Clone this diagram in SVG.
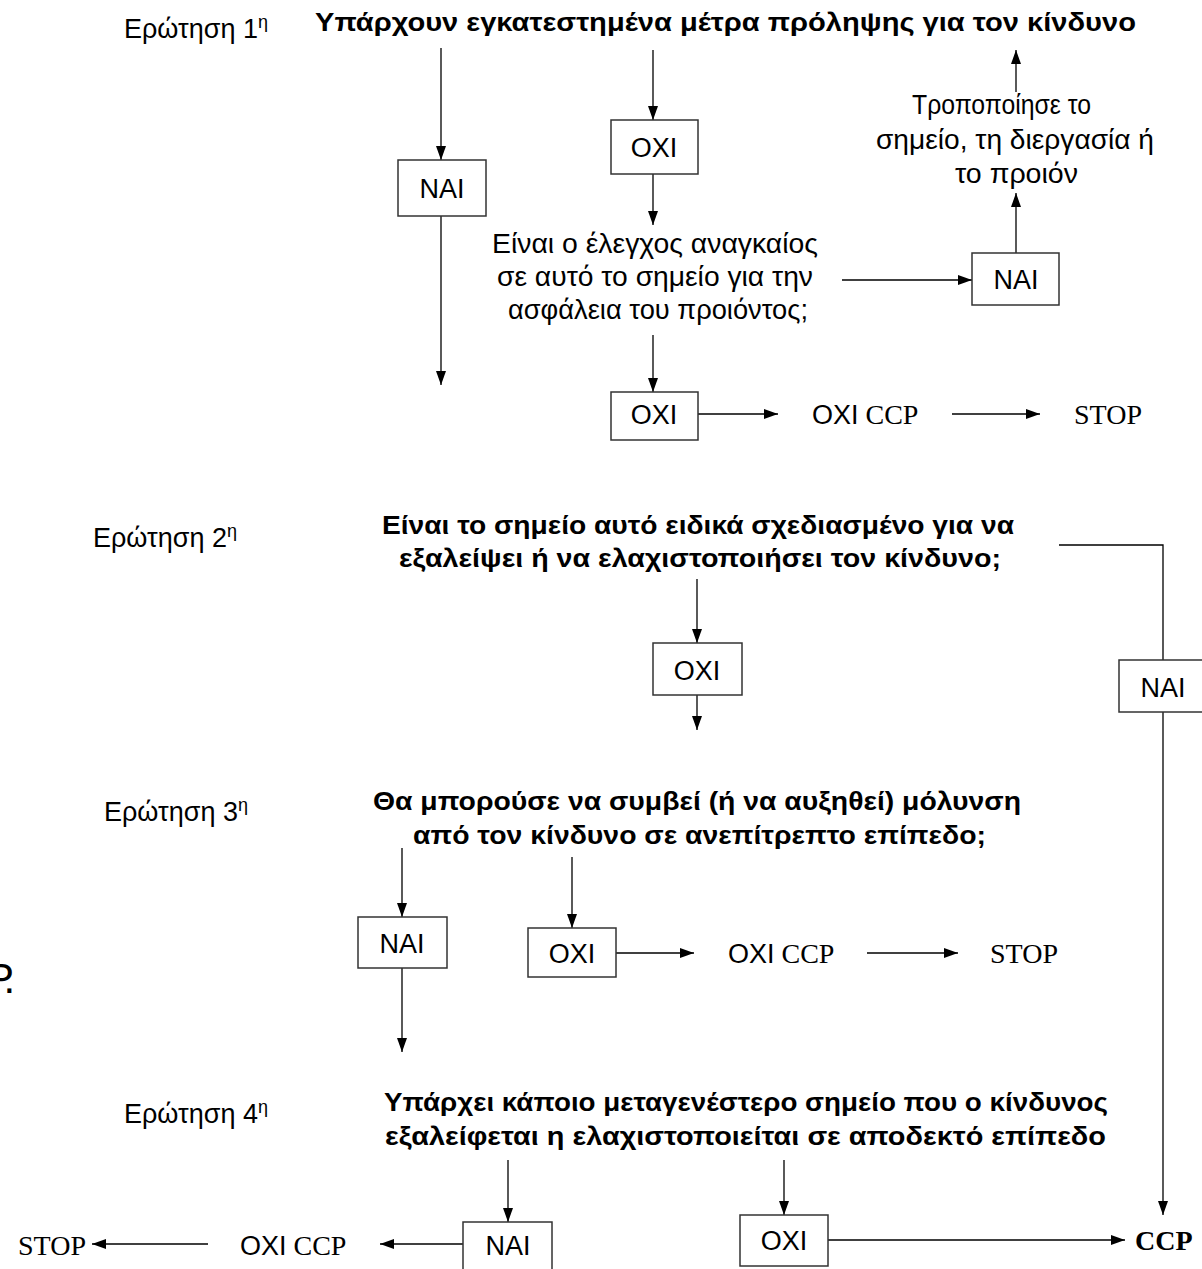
<svg xmlns="http://www.w3.org/2000/svg" width="1202" height="1269" viewBox="0 0 1202 1269">
<defs>
<marker id="ah" markerUnits="userSpaceOnUse" markerWidth="14" markerHeight="10" refX="14" refY="5" orient="auto">
<path d="M0,0 L14,5 L0,10 z" fill="#000"/>
</marker>
<style>
.t{font-family:"Liberation Sans",Arial,sans-serif;font-size:27px;fill:#000}
.b{font-family:"Liberation Sans",Arial,sans-serif;font-size:26.5px;font-weight:bold;fill:#000}
.tm{font-family:"Liberation Serif","Times New Roman",serif;font-size:28px;fill:#000}
.c{text-anchor:middle}
.box{fill:#fff;stroke:#333;stroke-width:1.5}
.ln{fill:none;stroke:#000;stroke-width:1.3}
.ar{marker-end:url(#ah)}
.sup{font-size:18px}
</style>
</defs>
<rect width="1202" height="1269" fill="#fff"/>

<g id="connectors">
<path class="ln ar" d="M441,48 V160"/>
<path class="ln ar" d="M441,216 V385"/>
<path class="ln ar" d="M653,50 V120"/>
<path class="ln ar" d="M653,174 V225"/>
<path class="ln ar" d="M842,280 H972"/>
<path class="ln ar" d="M1016,253 V193"/>
<path class="ln ar" d="M1016,92 V50"/>
<path class="ln ar" d="M653,335 V392"/>
<path class="ln ar" d="M698,414 H778"/>
<path class="ln ar" d="M952,414 H1040"/>
<path class="ln" d="M1059,545 H1163 V660"/>
<path class="ln ar" d="M1163,712 V1215"/>
<path class="ln ar" d="M697,579 V643"/>
<path class="ln ar" d="M697,695 V730"/>
<path class="ln ar" d="M402,848 V917"/>
<path class="ln ar" d="M402,968 V1052"/>
<path class="ln ar" d="M572,857 V928"/>
<path class="ln ar" d="M616,953 H694"/>
<path class="ln ar" d="M867,953 H958"/>
<path class="ln ar" d="M508,1160 V1222"/>
<path class="ln ar" d="M463,1244 H380"/>
<path class="ln ar" d="M208,1244 H92"/>
<path class="ln ar" d="M784,1160 V1215"/>
<path class="ln ar" d="M828,1240 H1125"/>
</g>

<g id="q1-label"><text class="t" x="124" y="38">Ερώτηση 1<tspan class="sup" dy="-10">η</tspan></text></g>
<g id="q1"><text class="b" x="315" y="31" textLength="821" lengthAdjust="spacingAndGlyphs">Υπάρχουν εγκατεστημένα μέτρα πρόληψης για τον κίνδυνο</text></g>
<g id="q1-yes"><rect class="box" x="398" y="160" width="88" height="56"/><text class="t c" x="442" y="198">NAI</text></g>
<g id="q1-no"><rect class="box" x="611" y="120" width="87" height="54"/><text class="t c" x="654" y="157">OXI</text></g>
<g id="q1b"><text class="t" x="492" y="253" textLength="326" lengthAdjust="spacingAndGlyphs">Είναι ο έλεγχος αναγκαίος</text><text class="t" x="497" y="286" textLength="316" lengthAdjust="spacingAndGlyphs">σε αυτό το σημείο για την</text><text class="t" x="508" y="319" textLength="300" lengthAdjust="spacingAndGlyphs">ασφάλεια του προιόντος;</text></g>
<g id="q1b-yes"><rect class="box" x="972" y="253" width="87" height="52"/><text class="t c" x="1016" y="289">NAI</text></g>
<g id="modify"><text class="t" x="912" y="114" textLength="179" lengthAdjust="spacingAndGlyphs">Τροποποίησε το</text><text class="t" x="876" y="149" textLength="278" lengthAdjust="spacingAndGlyphs">σημείο, τη διεργασία ή</text><text class="t" x="955" y="183" textLength="123" lengthAdjust="spacingAndGlyphs">το προιόν</text></g>
<g id="q1b-no"><rect class="box" x="611" y="392" width="87" height="48"/><text class="t c" x="654" y="424">OXI</text></g>
<g id="noccp1"><text class="t" x="812" y="424">OXI<tspan class="tm"> CCP</tspan></text></g>
<g id="stop1"><text class="tm" x="1074" y="424">STOP</text></g>

<g id="q2-label"><text class="t" x="93" y="547">Ερώτηση 2<tspan class="sup" dy="-10">η</tspan></text></g>
<g id="q2"><text class="b" x="382" y="534" textLength="632" lengthAdjust="spacingAndGlyphs">Είναι το σημείο αυτό ειδικά σχεδιασμένο για να</text><text class="b" x="399" y="567" textLength="602" lengthAdjust="spacingAndGlyphs">εξαλείψει ή να ελαχιστοποιήσει τον κίνδυνο;</text></g>
<g id="q2-no"><rect class="box" x="653" y="643" width="89" height="52"/><text class="t c" x="697" y="680">OXI</text></g>
<g id="q2-yes"><rect class="box" x="1119" y="660" width="84" height="52"/><text class="t c" x="1163" y="697">NAI</text></g>

<g id="q3-label"><text class="t" x="104" y="821">Ερώτηση 3<tspan class="sup" dy="-10">η</tspan></text></g>
<g id="q3"><text class="b" x="373" y="810" textLength="648" lengthAdjust="spacingAndGlyphs">Θα μπορούσε να συμβεί (ή να αυξηθεί) μόλυνση</text><text class="b" x="413" y="844" textLength="573" lengthAdjust="spacingAndGlyphs">από τον κίνδυνο σε ανεπίτρεπτο επίπεδο;</text></g>
<g id="q3-yes"><rect class="box" x="358" y="917" width="89" height="51"/><text class="t c" x="402" y="953">NAI</text></g>
<g id="q3-no"><rect class="box" x="528" y="928" width="88" height="49"/><text class="t c" x="572" y="963">OXI</text></g>
<g id="noccp3"><text class="t" x="728" y="963">OXI<tspan class="tm"> CCP</tspan></text></g>
<g id="stop3"><text class="tm" x="990" y="963">STOP</text></g>
<g id="fragment"><text class="t" x="-14" y="993" style="font-size:42px">P<tspan dx="-5">.</tspan></text></g>

<g id="q4-label"><text class="t" x="124" y="1123">Ερώτηση 4<tspan class="sup" dy="-10">η</tspan></text></g>
<g id="q4"><text class="b" x="384" y="1111" textLength="724" lengthAdjust="spacingAndGlyphs">Υπάρχει κάποιο μεταγενέστερο σημείο που ο κίνδυνος</text><text class="b" x="385" y="1145" textLength="721" lengthAdjust="spacingAndGlyphs">εξαλείφεται η ελαχιστοποιείται σε αποδεκτό επίπεδο</text></g>
<g id="q4-yes"><rect class="box" x="463" y="1222" width="89" height="52"/><text class="t c" x="508" y="1255">NAI</text></g>
<g id="noccp4"><text class="t" x="240" y="1255">OXI<tspan class="tm"> CCP</tspan></text></g>
<g id="stop4"><text class="tm" x="18" y="1255">STOP</text></g>
<g id="q4-no"><rect class="box" x="740" y="1215" width="88" height="51"/><text class="t c" x="784" y="1250">OXI</text></g>
<g id="ccp"><text class="tm" x="1135" y="1250" style="font-weight:bold">CCP</text></g>
</svg>
